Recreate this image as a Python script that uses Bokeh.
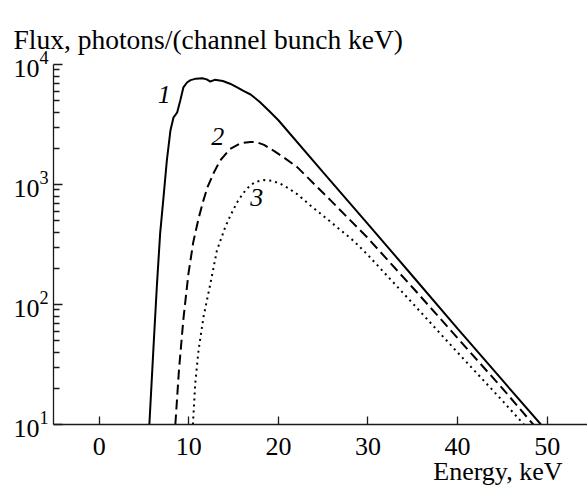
from bokeh.plotting import figure
from bokeh.models import Range1d, FixedTicker, Title, LogTickFormatter, Label
from bokeh.embed import file_html
from bokeh.resources import INLINE

# ---- data ----
energy_1 = [5.6, 6.1, 6.45, 6.8, 7.15, 7.55, 7.95, 8.3, 8.7, 9.05, 9.4, 9.8, 10.2,
            10.8, 11.5, 12.0, 12.4, 12.9, 13.8, 14.6, 15.4, 16.1, 16.9, 17.9, 19.0,
            20.0, 25.0, 30.0, 35.0, 40.0, 45.0, 49.3]
flux_1 = [10, 50, 148, 389, 741, 1585, 2818, 3631, 3981, 5012, 6457, 7079, 7413,
          7621, 7691, 7516, 7211, 7447, 7278, 6918, 6457, 6026, 5623, 4898, 4074,
          3430, 1260, 468, 172, 63, 23.4, 10]

energy_2 = [8.5, 8.9, 9.4, 9.95, 10.5, 11.1, 11.6, 12.1, 12.8, 13.5, 14.6, 15.75,
            16.9, 17.6, 18.4, 19.5, 20.6, 22.1, 25.8, 29.9, 35.0, 40.0, 45.0, 48.45]
flux_2 = [10, 28.2, 75.9, 178, 331, 525, 724, 955, 1259, 1585, 1972, 2203,
          2265, 2249, 2138, 1905, 1679, 1396, 741, 363, 138, 52.5, 20, 10]

energy_3 = [10.46, 10.72, 11.09, 11.65, 12.4, 13.14, 14.07, 14.64, 15.38, 16.1,
            16.87, 17.6, 18.4, 19.3, 20.2, 21.1, 22.09, 23.5, 25.8, 28.4, 30.0,
            35.0, 40.0, 45.0, 47.4]
flux_3 = [10, 21.9, 41.7, 79.4, 148, 282, 442, 550, 708, 851,
          989, 1059, 1089, 1072, 1016, 933, 832, 676, 490, 339, 258,
          102, 39.8, 15.8, 10]

curve_names = ["1", "2", "3"]
x_ticks = [0, 10, 20, 30, 40, 50]
y_ticks = [10, 100, 1000, 10000]
y_title = "Flux, photons/(channel bunch keV)"
x_title = "Energy, keV"

FONT = "Liberation Serif"
INK = "#1a1a1a"

p = figure(width=587, height=485, x_range=Range1d(-5.1, 54.5),
           y_range=Range1d(10, 10000), y_axis_type="log",
           output_backend="svg", toolbar_location=None,
           min_border_left=53, min_border_right=0,
           min_border_top=64, min_border_bottom=61)
p.outline_line_color = None
p.xgrid.grid_line_color = None
p.ygrid.grid_line_color = None
p.background_fill_color = "white"
p.border_fill_color = "white"

# x axis
xa = p.xaxis[0]
xa.ticker = FixedTicker(ticks=x_ticks)
xa.major_tick_in = 8
xa.major_tick_out = 0
xa.minor_tick_in = 0
xa.minor_tick_out = 0
xa.axis_line_width = 1.3
xa.axis_line_color = INK
xa.major_tick_line_width = 1.3
xa.major_tick_line_color = INK
xa.major_label_text_font = FONT
xa.major_label_text_font_size = "26px"
xa.major_label_text_color = "black"
xa.major_label_standoff = 13

# y axis (log)
minor = [m * d for d in y_ticks[:-1] for m in range(2, 10)]
ya = p.yaxis[0]
ya.ticker = FixedTicker(ticks=y_ticks, minor_ticks=minor)
ya.formatter = LogTickFormatter()
ya.major_tick_in = 9
ya.major_tick_out = 0
ya.minor_tick_in = 6
ya.minor_tick_out = 0
ya.axis_line_width = 1.3
ya.axis_line_color = INK
ya.major_tick_line_width = 1.3
ya.major_tick_line_color = INK
ya.minor_tick_line_width = 1.3
ya.minor_tick_line_color = INK
ya.major_label_text_font = FONT
ya.major_label_text_font_size = "26px"
ya.major_label_text_color = "black"
ya.major_label_standoff = 5

# curves
p.line(energy_1, flux_1, line_color="black", line_width=2)
p.line(energy_2, flux_2, line_color="black", line_width=2, line_dash="10 5")
p.line(energy_3, flux_3, line_color="black", line_width=2, line_dash="2 4")

# curve labels
for name, (lx, ly) in zip(curve_names, [(7.26, 5572), (13.23, 2489), (17.59, 773)]):
    p.add_layout(Label(x=lx, y=ly, text=name, text_font=FONT, text_font_style="italic",
                       text_font_size="26px", text_align="center", text_baseline="middle",
                       text_color="black"))

# axis titles
p.add_layout(Title(text=y_title, align="left", offset=-40, standoff=16,
                   vertical_align="top",
                   text_font=FONT, text_font_size="27.5px", text_font_style="normal",
                   text_color="black"), "above")
p.add_layout(Title(text=x_title, align="right", offset=25, standoff=-5,
                   text_font=FONT, text_font_size="26px", text_font_style="normal",
                   text_color="black"), "below")

open("out.html", "w").write(file_html(p, INLINE))
